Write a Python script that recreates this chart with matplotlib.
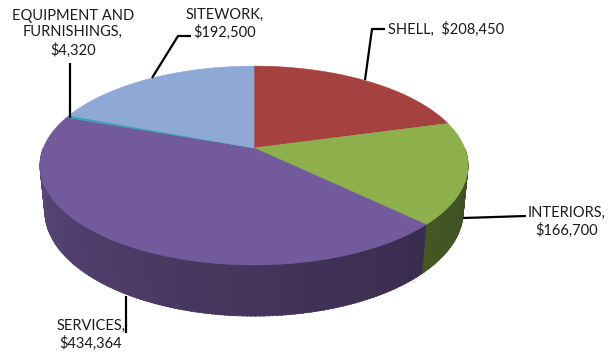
import numpy as np
import matplotlib
matplotlib.use("Agg")
import matplotlib.pyplot as plt
from matplotlib.patches import Polygon
from matplotlib.colors import to_rgb

# Cost breakdown by category
categories = ["SHELL", "INTERIORS", "SERVICES", "EQUIPMENT AND\nFURNISHINGS", "SITEWORK"]
values = [208450, 166700, 434364, 4320, 192500]
top_colors = ["#A5413F", "#8DB04D", "#735A9C", "#3FA3B8", "#8FA9D6"]

# Projection of a tilted disk seen in perspective
CX, CY = 254.0, 148.0
F = 1064.0
D = 5.05
TILT = np.deg2rad(27.2)
S, C = np.sin(TILT), np.cos(TILT)
THICK = 0.245


def project(theta_deg, r=1.0, h=0.0):
    th = np.deg2rad(theta_deg)
    X = r * np.sin(th)
    Z = -r * np.cos(th)
    depth = D - Z * C + h * S
    x = CX + F * X / depth
    y = CY + F * (Z * S + h * C) / depth
    return x, y


fig = plt.figure(figsize=(6.09, 3.56), dpi=100)
ax = fig.add_axes([0, 0, 1, 1])
ax.set_xlim(0, 609)
ax.set_ylim(356, 0)
ax.axis("off")

total = float(sum(values))
bounds = np.concatenate([[0.0], np.cumsum(values) / total * 360.0])


def shade(base, theta):
    # rim is lit from the left and falls into shadow toward the right
    t = np.clip((theta - 90.0) / 180.0, 0, 1)  # 0 at right, 1 at left
    fac = 0.44 + 0.36 * t ** 1.3
    rgb = np.array(to_rgb(base))
    return tuple(np.clip(rgb * fac, 0, 1))


# outer rim, drawn in thin strips so it carries a soft gradient
for i in range(len(values)):
    a0, a1 = bounds[i], bounds[i + 1]
    lo, hi = max(a0, 90.0), min(a1, 270.0)
    if hi <= lo:
        continue
    n = max(2, int((hi - lo) / 1.0))
    ths = np.linspace(lo, hi, n + 1)
    for j in range(n):
        t0 = ths[j]
        t1 = min(ths[j + 1] + 0.4, hi)
        tt = np.linspace(t0, t1, 4)
        xt, yt = project(tt)
        xb, yb = project(tt[::-1], h=THICK)
        pts = np.column_stack([np.concatenate([xt, xb]), np.concatenate([yt, yb])])
        col = shade(top_colors[i], 0.5 * (ths[j] + ths[j + 1]))
        ax.add_patch(Polygon(pts, closed=True, facecolor=col, edgecolor=col,
                             linewidth=0.5, zorder=2))

# top faces
for i in range(len(values)):
    a0, a1 = bounds[i], bounds[i + 1]
    tt = np.linspace(a0, a1, max(3, int(a1 - a0) * 2))
    xa, ya = project(tt)
    pts = np.vstack([[CX, CY], np.column_stack([xa, ya])])
    ax.add_patch(Polygon(pts, closed=True, facecolor=top_colors[i],
                         edgecolor=top_colors[i], linewidth=0.4, zorder=3))

# labels and leader lines
font = dict(family=["Lato", "DejaVu Sans"], fontsize=10.5, color="#1a1a1a", zorder=5)
lk = dict(color="black", linewidth=1.6, zorder=4, solid_capstyle="butt")

money = ["${:,}".format(v) for v in values]

# SHELL
ax.plot([365, 372, 385], [80, 29, 29], **lk)
ax.text(388, 29, f"{categories[0]},  {money[0]}", ha="left", va="center", **font)

# INTERIORS
ax.plot([463, 526], [218, 216], **lk)
ax.text(567, 222, f"{categories[1]},\n{money[1]}", ha="center", va="center",
        linespacing=1.25, **font)

# SERVICES
ax.plot([126, 126], [296, 333], **lk)
ax.text(91, 335, f"{categories[2]},\n{money[2]}", ha="center", va="center",
        linespacing=1.25, **font)

# EQUIPMENT AND FURNISHINGS
ax.plot([70, 70], [63, 118], **lk)
ax.text(73, 33, f"{categories[3]},\n{money[3]}", ha="center", va="center",
        linespacing=1.25, **font)

# SITEWORK
ax.plot([152, 178, 191], [78, 36, 36], **lk)
ax.text(225, 24, f"{categories[4]},\n{money[4]}", ha="center", va="center",
        linespacing=1.25, **font)

fig.savefig("out.png", dpi=100, facecolor="white")
